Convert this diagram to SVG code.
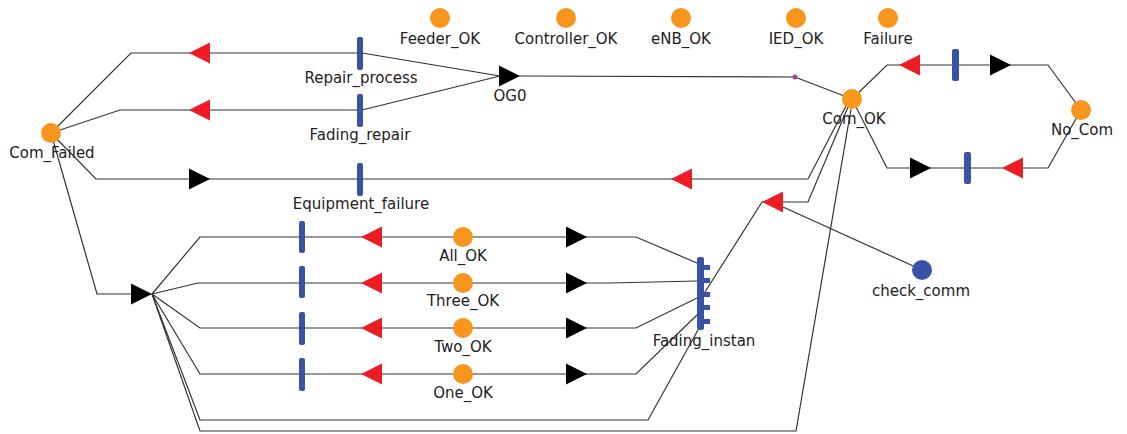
<svg xmlns="http://www.w3.org/2000/svg" width="1127" height="434" viewBox="0 0 1127 434">
<style>
.arc{fill:none;stroke:#333;stroke-width:1.2}
.pl{fill:#F7951D}
.bl{fill:#3953A4}
.tr{fill:#3953A4}
.lb{font-family:"DejaVu Sans",sans-serif;font-size:15px;fill:#222;text-anchor:middle}
.ra{fill:#ED1C24}
.ka{fill:#000}
</style>
<defs>
<path id="redL" d="M0,0 L21,-10.5 L21,10.5 Z"/>
<path id="blkR" d="M0,0 L-21,-10.5 L-21,10.5 Z"/>
</defs>
<rect width="1127" height="434" fill="#fff"/>
<g id="connectors">
<polyline class="arc" points="51,133 131,53 360,53"/>
<line class="arc" x1="362" y1="53" x2="500" y2="76"/>
<polyline class="arc" points="51,133 120,110 360,110"/>
<line class="arc" x1="362" y1="110" x2="500" y2="76"/>
<polyline class="arc" points="519,76 795,77 852,99"/>
<polyline class="arc" points="51,133 96,179 808,179 846,106"/>
<polyline class="arc" points="51,133 97,294 132,294"/>
<polyline class="arc" points="152,294 200,237 636,237 697,263"/>
<polyline class="arc" points="152,294 198,283 610,283 697,281"/>
<polyline class="arc" points="152,294 200,328 636,328 697,298"/>
<polyline class="arc" points="152,294 200,374 636,374 697,315"/>
<polyline class="arc" points="152,294 200,420 648,420 698,330"/>
<polyline class="arc" points="152,294 200,431 796,431 851,109"/>
<polyline class="arc" points="705,292 762,202 808,202 848,107"/>
<line class="arc" x1="922" y1="270" x2="783" y2="207"/>
<polyline class="arc" points="852,99 887,65 1048,65 1081,110"/>
<polyline class="arc" points="852,99 887,168 1048,168 1081,110"/>
<circle cx="795" cy="77" r="2.5" fill="#A0468C"/>
<use href="#redL" class="ra" x="189" y="53"/>
<use href="#redL" class="ra" x="189" y="110"/>
<use href="#blkR" class="ka" x="210" y="179"/>
<use href="#redL" class="ra" x="671" y="179"/>
<use href="#blkR" class="ka" x="152" y="294"/>
<use href="#blkR" class="ka" x="520" y="76"/>
<use href="#redL" class="ra" x="361" y="237"/>
<use href="#redL" class="ra" x="361" y="283"/>
<use href="#redL" class="ra" x="361" y="328"/>
<use href="#redL" class="ra" x="361" y="374"/>
<use href="#blkR" class="ka" x="587" y="237"/>
<use href="#blkR" class="ka" x="587" y="283"/>
<use href="#blkR" class="ka" x="587" y="328"/>
<use href="#blkR" class="ka" x="587" y="374"/>
<use href="#redL" class="ra" x="762" y="202"/>
<use href="#redL" class="ra" x="899" y="65"/>
<use href="#blkR" class="ka" x="1011" y="65"/>
<use href="#blkR" class="ka" x="931" y="168"/>
<use href="#redL" class="ra" x="1002" y="168"/>
</g>
<g id="Com_Failed"><circle class="pl" cx="51" cy="133" r="10"/><text class="lb" x="52" y="158">Com_Failed</text></g>
<g id="Com_OK"><circle class="pl" cx="852" cy="99" r="10"/><text class="lb" x="854" y="124">Com_OK</text></g>
<g id="No_Com"><circle class="pl" cx="1081" cy="110" r="10"/><text class="lb" x="1082" y="135">No_Com</text></g>
<g id="Feeder_OK"><circle class="pl" cx="440" cy="18" r="10"/><text class="lb" x="440" y="44">Feeder_OK</text></g>
<g id="Controller_OK"><circle class="pl" cx="566" cy="18" r="10"/><text class="lb" x="566" y="44">Controller_OK</text></g>
<g id="eNB_OK"><circle class="pl" cx="681" cy="18" r="10"/><text class="lb" x="681" y="44">eNB_OK</text></g>
<g id="IED_OK"><circle class="pl" cx="796" cy="18" r="10"/><text class="lb" x="796" y="44">IED_OK</text></g>
<g id="Failure"><circle class="pl" cx="888" cy="18" r="10"/><text class="lb" x="888" y="44">Failure</text></g>
<g id="All_OK"><circle class="pl" cx="463" cy="237" r="10"/><text class="lb" x="463" y="261">All_OK</text></g>
<g id="Three_OK"><circle class="pl" cx="463" cy="283" r="10"/><text class="lb" x="463" y="306">Three_OK</text></g>
<g id="Two_OK"><circle class="pl" cx="463" cy="328" r="10"/><text class="lb" x="463" y="352">Two_OK</text></g>
<g id="One_OK"><circle class="pl" cx="463" cy="374" r="10"/><text class="lb" x="463" y="398">One_OK</text></g>
<g id="check_comm"><circle class="bl" cx="922" cy="270" r="10"/><text class="lb" x="921" y="296">check_comm</text></g>
<g id="Repair_process"><rect class="tr" x="357" y="37" width="6" height="33" rx="2"/><text class="lb" x="361" y="83">Repair_process</text></g>
<g id="Fading_repair"><rect class="tr" x="357" y="94" width="6" height="33" rx="2"/><text class="lb" x="360" y="140">Fading_repair</text></g>
<g id="Equipment_failure"><rect class="tr" x="357" y="163" width="6" height="33" rx="2"/><text class="lb" x="361" y="209">Equipment_failure</text></g>
<g id="OG0"><text class="lb" x="510" y="101">OG0</text></g>
<g id="T_all"><rect class="tr" x="299" y="221" width="6" height="32" rx="2"/></g>
<g id="T_three"><rect class="tr" x="299" y="266" width="6" height="32" rx="2"/></g>
<g id="T_two"><rect class="tr" x="299" y="312" width="6" height="33" rx="2"/></g>
<g id="T_one"><rect class="tr" x="299" y="358" width="6" height="33" rx="2"/></g>
<g id="Fading_instan"><rect class="tr" x="697" y="257" width="7" height="73" rx="2"/>
<rect class="tr" x="704" y="265" width="6" height="5"/><rect class="tr" x="704" y="278" width="6" height="5"/><rect class="tr" x="704" y="292" width="6" height="5"/><rect class="tr" x="704" y="305" width="6" height="5"/><rect class="tr" x="704" y="319" width="6" height="5"/>
<text class="lb" x="704" y="346">Fading_instan</text></g>
<g id="T_top"><rect class="tr" x="952" y="49" width="7" height="32" rx="2"/></g>
<g id="T_bottom"><rect class="tr" x="964" y="152" width="7" height="32" rx="2"/></g>
</svg>
